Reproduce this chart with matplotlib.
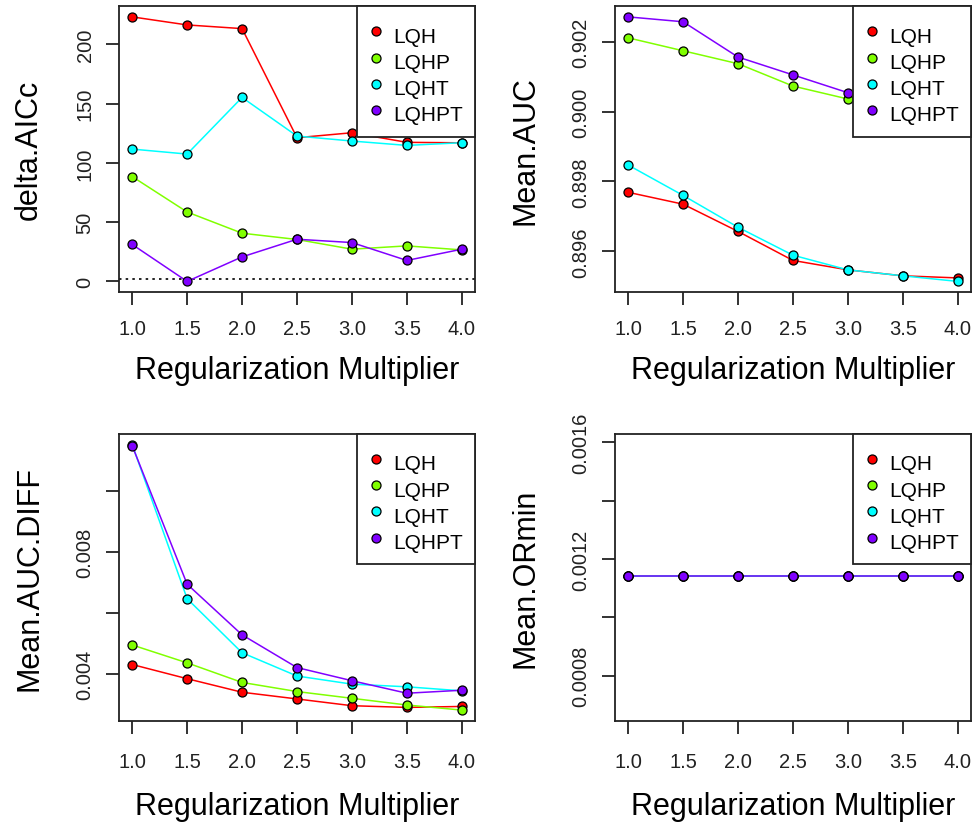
import numpy as np
import matplotlib.pyplot as plt

plt.rcParams['font.family'] = ['Liberation Sans', 'DejaVu Sans']

rm = [1.0, 1.5, 2.0, 2.5, 3.0, 3.5, 4.0]
features = ['LQH', 'LQHP', 'LQHT', 'LQHPT']
colors = ['#FF0000', '#80FF00', '#00FFFF', '#8000FF']

delta_aicc = {
    'LQH':   [223.3, 216.5, 213.4, 121.3, 125.5, 117.4, 117.0],
    'LQHP':  [88.5, 58.6, 40.7, 35.4, 27.2, 30.0, 26.6],
    'LQHT':  [111.7, 107.5, 155.3, 122.7, 118.5, 114.8, 117.1],
    'LQHPT': [31.2, 0.0, 20.7, 35.6, 32.8, 17.7, 27.2],
}
mean_auc = {
    'LQH':   [0.89769, 0.89735, 0.89657, 0.89574, 0.89547, 0.89530, 0.89524],
    'LQHP':  [0.90211, 0.90174, 0.90137, 0.90073, 0.90036, 0.90012, 0.89992],
    'LQHT':  [0.89847, 0.89760, 0.89669, 0.89589, 0.89547, 0.89530, 0.89514],
    'LQHPT': [0.90271, 0.90257, 0.90156, 0.90105, 0.90054, 0.90032, 0.90012],
}
mean_auc_diff = {
    'LQH':   [0.004321, 0.003857, 0.003414, 0.003195, 0.002974, 0.002918, 0.002950],
    'LQHP':  [0.004960, 0.004375, 0.003735, 0.003437, 0.003216, 0.002997, 0.002831],
    'LQHT':  [0.011510, 0.006473, 0.004706, 0.003945, 0.003679, 0.003592, 0.003460],
    'LQHPT': [0.011474, 0.006947, 0.005291, 0.004221, 0.003791, 0.003382, 0.003480],
}
mean_ormin = {f: [0.001143] * 7 for f in features}

aicc_ticks = [0, 50, 100, 150, 200]
aicc_labels = ['0', '50', '100', '150', '200']
auc_ticks = [0.896, 0.898, 0.900, 0.902]
auc_labels = ['0.896', '0.898', '0.900', '0.902']
diff_ticks = [0.004, 0.006, 0.008, 0.010]
diff_labels = ['0.004', '', '0.008', '']
or_ticks = [0.0008, 0.0010, 0.0012, 0.0014, 0.0016]
or_labels = ['0.0008', '', '0.0012', '', '0.0016']
x_labels = ['1.0', '1.5', '2.0', '2.5', '3.0', '3.5', '4.0']

W, H = 976, 829
fig = plt.figure(figsize=(W / 100, H / 100), dpi=100)


def box(x0, y0, x1, y1):
    return [x0 / W, 1 - y1 / H, (x1 - x0) / W, (y1 - y0) / H]


def panel(rect, data, ylabel, yticks, ylabels, ylim=None, xpad=10, lpad=12.5):
    ax = fig.add_axes(rect)
    for f, c in zip(features, colors):
        ax.plot(rm, data[f], color=c, lw=1.1, zorder=2)
        ax.plot(rm, data[f], 'o', ms=6.5, mfc=c, mec='black', mew=0.9, zorder=3)
    ax.set_xlim(0.88, 4.12)
    if ylim is None:
        ax.margins(y=0.04)
    else:
        ax.set_ylim(*ylim)
    ax.set_xticks(rm, x_labels)
    ax.set_yticks(yticks, ylabels)
    ax.tick_params(axis='both', direction='out', length=9.5, width=1.3,
                   color='#222222', labelsize=14.5, labelcolor='#222222')
    ax.tick_params(axis='x', pad=xpad)
    ax.tick_params(axis='y', pad=8)
    for lab in ax.get_yticklabels():
        lab.set_rotation(90)
        lab.set_va('center')
    for s in ax.spines.values():
        s.set_linewidth(1.3)
        s.set_color('#222222')
    ax.set_xlabel('Regularization Multiplier', fontsize=22, labelpad=lpad)
    ax.set_ylabel(ylabel, fontsize=22)
    ax.yaxis.set_label_coords(-0.21, 0.5)

    # empty scatters only serve as legend keys
    handles = [ax.scatter([], [], s=6.5 ** 2, color=c, edgecolors='black',
                          linewidths=0.9) for c in colors]
    leg = ax.legend(handles, features, loc='upper right', fontsize=15,
                    title=' ', title_fontsize=1,
                    borderaxespad=0, fancybox=False, framealpha=1,
                    edgecolor='#222222', borderpad=0.59, labelspacing=0.346,
                    handlelength=0.7, handletextpad=0.45,
                    scatterpoints=1, scatteryoffsets=[0.72])
    leg.get_frame().set_linewidth(1.3)
    leg.set_zorder(5)
    return ax


ax1 = panel(box(119, 7.3, 475, 293), delta_aicc, 'delta.AICc',
            aicc_ticks, aicc_labels)
ax1.axhline(2, color='black', ls=(0, (1.5, 2.5)), lw=1.2, zorder=1)

ax2 = panel(box(615, 7.3, 971, 293), mean_auc, 'Mean.AUC',
            auc_ticks, auc_labels)

ax3 = panel(box(119, 435, 475, 721.7), mean_auc_diff, 'Mean.AUC.DIFF',
            diff_ticks, diff_labels, xpad=13, lpad=14.5)

ax4 = panel(box(615, 435, 971, 721.7), mean_ormin, 'Mean.ORmin',
            or_ticks, or_labels, ylim=(0.000646, 0.001629), xpad=13, lpad=14.5)

fig.savefig('out.png', dpi=100)
